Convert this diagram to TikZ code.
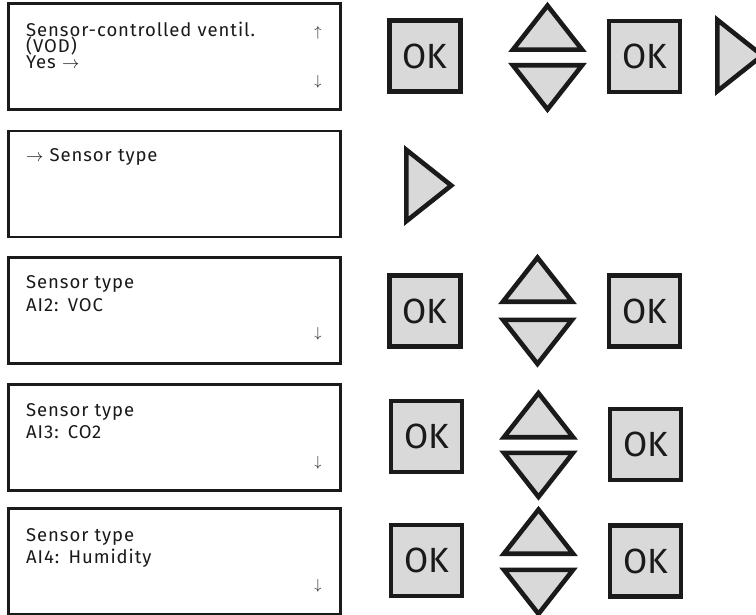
\documentclass[tikz,border=0pt]{standalone}
\usepackage{fontspec}
\setmainfont{Fira Sans}
\newfontfamily\scrfont{Fira Sans}[LetterSpace=5]
\newcommand\noskiplimit{\lineskiplimit=-30pt\relax}
\definecolor{btngray}{HTML}{D9D9D9}
\definecolor{ink}{HTML}{1A1A1A}
\tikzset{
  screen/.style={draw=ink, line width=2.8pt, minimum width=332.2pt, minimum height=106pt, inner sep=0pt},
  scrtext/.style={anchor=base west, inner sep=0pt, text=ink, text width=280pt, align=left,
    font=\scrfont\fontsize{18.5}{22.5}\selectfont\noskiplimit},
  tightlines/.style={font=\scrfont\fontsize{18.5}{15.8}\selectfont\noskiplimit},
  scrarrow/.style={inner sep=0pt, text=ink, font=\fontsize{15}{15}\selectfont},
  okbtn/.style={draw=ink, line width=4.6pt, fill=btngray, minimum size=71pt, inner sep=0pt, text=ink, font=\fontsize{35}{35}\selectfont},
  tri/.style={draw=ink, line width=4.6pt, fill=btngray, line join=miter},
  uptri/.pic={\path[tri] (0,-21.4) -- (34.6,22.7) -- (-34.6,22.7) -- cycle;},
  downtri/.pic={\path[tri] (0,21.4) -- (34.6,-22.7) -- (-34.6,-22.7) -- cycle;},
  righttri/.pic={\path[tri] (21.8,0) -- (-23.2,35.7) -- (-23.2,-35.7) -- cycle;},
}
\begin{document}
\begin{tikzpicture}[x=1pt,y=-1pt]
\useasboundingbox[fill=white] (0,0) rectangle (756,615);

% ---------- row 1 ----------
\node[screen] (s1) at (174.5,56.5) {};
\node[scrtext, tightlines] (t1) at (26,37) {Sensor-controlled ventil.\\(VOD)\\Yes $\rightarrow$};
\node[scrarrow] (u1) at (318,32.5) {$\uparrow$};
\node[scrarrow] (d1) at (318,82) {$\downarrow$};
\node[okbtn] (ok1a) at (425,56) {OK};
\pic at (547.5,27) {uptri};
\pic at (547.5,88) {downtri};
\node[okbtn] (ok1b) at (644.5,56.5) {OK};
\pic at (740.5,55.5) {righttri};

% ---------- row 2 ----------
\node[screen] (s2) at (174.5,184) {};
\node[scrtext] (t2) at (26,162) {$\rightarrow$ Sensor type};
\pic at (429.5,185.5) {righttri};

% ---------- row 3 ----------
\node[screen] (s3) at (174.5,310.5) {};
\node[scrtext] (t3) at (26,288.5) {Sensor type\\AI2: VOC};
\node[scrarrow] (d3) at (318,333.5) {$\downarrow$};
\node[okbtn] (ok3a) at (425,311) {OK};
\pic at (537.5,279) {uptri};
\pic at (537.5,342.5) {downtri};
\node[okbtn] (ok3b) at (644.5,311) {OK};

% ---------- row 4 ----------
\node[screen] (s4) at (174.5,437.5) {};
\node[scrtext] (t4) at (26,416) {Sensor type\\AI3: CO2};
\node[scrarrow] (d4) at (318,462.5) {$\downarrow$};
\node[okbtn] (ok4a) at (426.5,436.5) {OK};
\pic at (538.5,414.5) {uptri};
\pic at (538.5,475.5) {downtri};
\node[okbtn] (ok4b) at (645.5,444.5) {OK};

% ---------- row 5 ----------
\node[screen] (s5) at (174.5,561.5) {};
\node[scrtext] (t5) at (26,541) {Sensor type\\AI4: Humidity};
\node[scrarrow] (d5) at (318,586) {$\downarrow$};
\node[okbtn] (ok5a) at (426.5,560.5) {OK};
\pic at (538.5,531) {uptri};
\pic at (538.5,592.5) {downtri};
\node[okbtn] (ok5b) at (645.5,561) {OK};
\end{tikzpicture}
\end{document}
